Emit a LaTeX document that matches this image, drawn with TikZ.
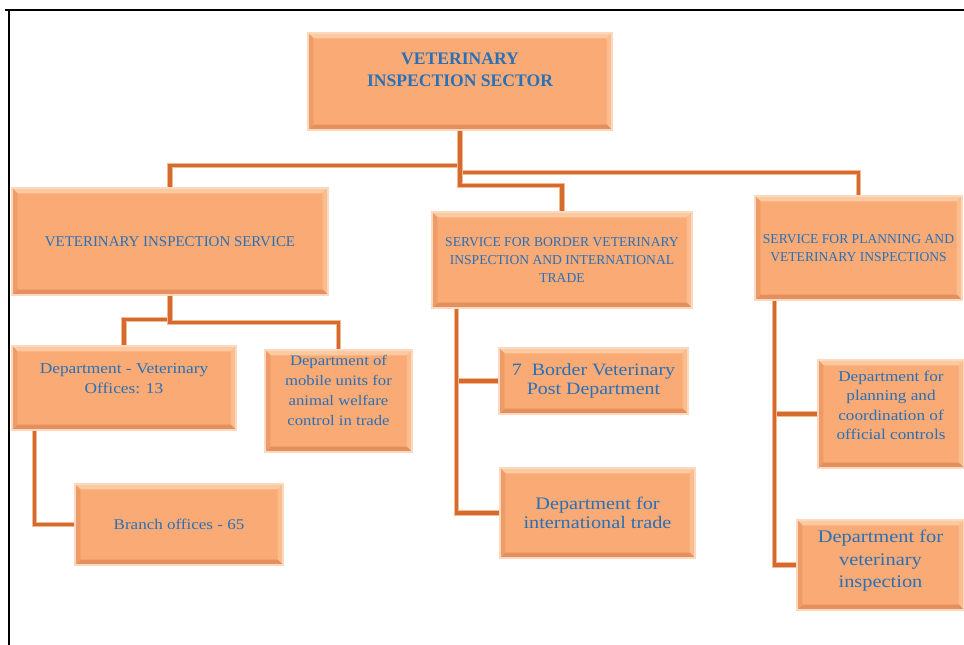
\documentclass[tikz,border=0pt]{standalone}
\usepackage{fontspec}
\setmainfont{Liberation Serif}
\newfontfamily\widefont[FakeStretch=1.15]{Liberation Serif}
\usepackage{tikz}
\usetikzlibrary{positioning,calc}
\definecolor{unitfill}{RGB}{250,170,116}
\definecolor{unitlight}{RGB}{253,201,160}
\definecolor{unitdark}{RGB}{228,144,94}
\definecolor{unitedge}{RGB}{252,216,190}
\definecolor{linkdark}{RGB}{212,106,46}
\definecolor{linklight}{RGB}{246,184,146}
\definecolor{textblue}{RGB}{40,112,184}

\begin{document}
\begin{tikzpicture}[
    x=0.75pt, y=-0.75pt,
    unit/.style={draw=unitedge, line width=0.8pt, fill=unitfill, align=center,
                 text=textblue, inner sep=2pt, bevel},
    bevel/.style={path picture={
        \coordinate (bl) at (path picture bounding box.south west);
        \coordinate (tr) at (path picture bounding box.north east);
        \coordinate (tl) at (bl |- tr);
        \coordinate (br) at (tr |- bl);
        \fill[unitlight] (tl) -- (tr) -- ([xshift=-4pt,yshift=-4pt]tr) -- ([xshift=4pt,yshift=-4pt]tl) -- cycle;
        \fill[unitlight!60!unitfill] (tr) -- (br) -- ([xshift=-4pt,yshift=4pt]br) -- ([xshift=-4pt,yshift=-4pt]tr) -- cycle;
        \fill[unitdark] (br) -- (bl) -- ([xshift=4pt,yshift=4pt]bl) -- ([xshift=-4pt,yshift=4pt]br) -- cycle;
        \fill[unitdark!60!unitfill] (bl) -- (tl) -- ([xshift=4pt,yshift=-4pt]tl) -- ([xshift=4pt,yshift=4pt]bl) -- cycle;
    }},
    capsfont/.style 2 args={font=\fontsize{#1}{#2}\selectfont},
    deptfont/.style 2 args={font=\widefont\fontsize{#1}{#2}\selectfont},
    link/.style={draw=linkdark, line width=2.4pt, preaction={draw=linklight, line width=3.8pt}},
]
    \useasboundingbox (0,0) rectangle (964,645);

    % frame
    \draw[line width=1.4pt] (5,10) -- (964,10);
    \draw[line width=1.4pt] (9,10) -- (9,645);

    % top level
    \node[unit, minimum width=228pt, minimum height=72.75pt, text depth=18pt,
          font=\bfseries\fontsize{13.2}{16.5}\selectfont] (sector) at (460,81.5)
        {VETERINARY\\INSPECTION SECTOR};

    % services
    \node[unit, minimum width=237pt, minimum height=80.25pt, capsfont={11.2}{14}] (vis) at (170,241.5)
        {VETERINARY INSPECTION SERVICE};
    \node[unit, minimum width=195pt, minimum height=72pt, capsfont={10.2}{13.5}] (sbvi) at (562,260)
        {SERVICE FOR BORDER VETERINARY\\INSPECTION AND INTERNATIONAL\\TRADE};
    \node[unit, minimum width=155.25pt, minimum height=78pt, capsfont={10.2}{13}] (spvi) at (858.5,248)
        {SERVICE FOR PLANNING AND\\VETERINARY INSPECTIONS};

    % departments
    \node[unit, minimum width=168pt, minimum height=63pt, text depth=14pt, deptfont={11.3}{15}] (dvo) at (124,388)
        {Department - Veterinary\\Offices: 13};
    \node[unit, minimum width=110.25pt, minimum height=76.5pt, text depth=16pt, deptfont={10.9}{14.9}] (dmu) at (338.5,401)
        {Department of\\mobile units for\\animal welfare\\control in trade};
    \node[unit, minimum width=156pt, minimum height=60.75pt, deptfont={11.1}{14}] (branch) at (179,524.5)
        {Branch offices - 65};
    \node[unit, minimum width=141.75pt, minimum height=49.5pt, deptfont={13}{14.3}] (bvp) at (593.5,381)
        {7~ Border Veterinary\\Post Department};
    \node[unit, minimum width=146.25pt, minimum height=67.5pt, deptfont={13.2}{14.3}] (intl) at (597.5,513)
        {Department for\\international trade};
    \node[unit, minimum width=109.5pt, minimum height=81pt, text depth=13pt, deptfont={11.2}{14.7}] (plan) at (891,414)
        {Department for\\planning and\\coordination of\\official controls};
    \node[unit, minimum width=125.25pt, minimum height=67.5pt, text depth=9pt, deptfont={13.3}{17}] (vinsp) at (880.5,565)
        {Department for\\veterinary\\inspection};

    % connectors
    \draw[link] (sector.south) -- ++(0,35) -| (vis.north);
    \draw[link] (sector.south) -- ++(0,42) -| (spvi.north);
    \draw[link] (sector.south) -- ++(0,55) -| (sbvi.north);

    \draw[link] (vis.south) -- ++(0,24) -| (dvo.north);
    \draw[link] (vis.south) -- ++(0,27) -| (dmu.north);
    \draw[link] ([xshift=17pt]dvo.south west) |- (branch.west);

    \draw[link] ([xshift=19pt]sbvi.south west) |- (bvp.west);
    \draw[link] ([xshift=19pt]sbvi.south west) |- (intl.west);

    \draw[link] ([xshift=15pt]spvi.south west) |- (plan.west);
    \draw[link] ([xshift=15pt]spvi.south west) |- (vinsp.west);
\end{tikzpicture}
\end{document}
